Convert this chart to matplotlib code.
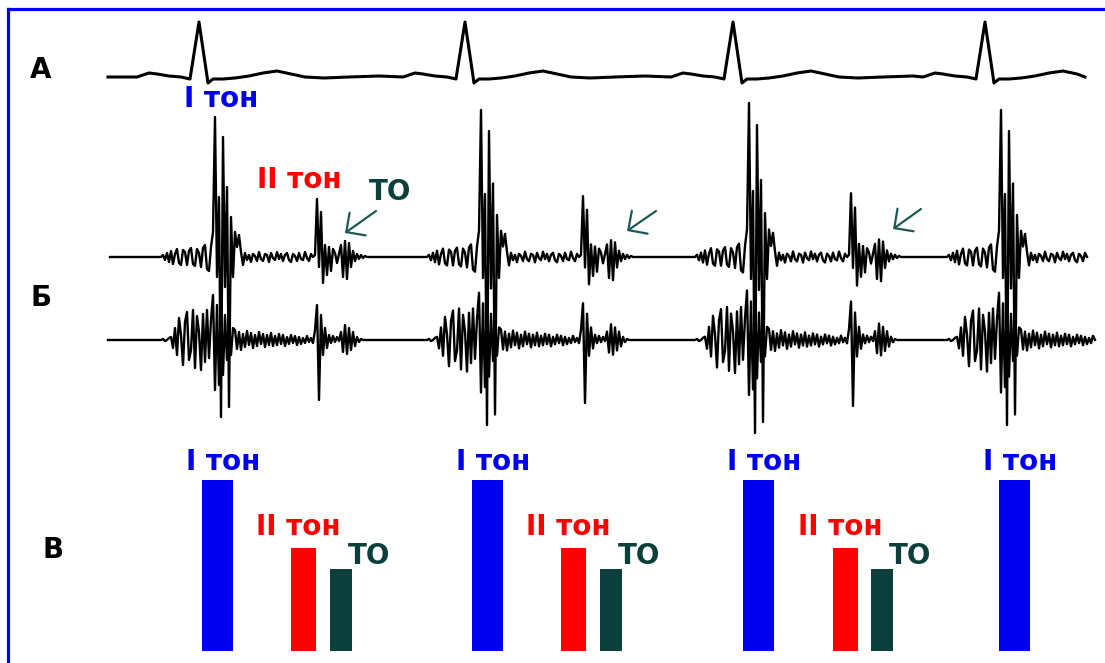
import numpy as np
import matplotlib
matplotlib.use('agg')
import matplotlib.pyplot as plt

W, H = 1105, 663

# beat timing along the recording (px from left edge of the sheet)
r_peaks = [199, 465, 733, 985]
t_first = [217, 487, 758, 1014]
t_second = [303, 573, 845]
t_third = [341, 611, 882]

# relative loudness of the tones (scheme В)
amp_first = 1.0
amp_second = 0.60
amp_third = 0.48

# ECG beat (offset from R peak, deflection in px)
ecg_dx = [-62, -50, -42, -30, -18, -9, 0, 9, 14, 24, 36, 50, 64, 78, 92, 106, 125, 150, 180]
ecg_mv = [0, 4, 3, 1, 0, -2, 55, -6, -2, -2, -1, 1, 4, 6, 3, 0, -1, 0, 1]

# PCG beats, sampled every 2 px from R-40
pcg_step = 2
pcg_start = -40
pcg_hi = [0, 0, 2, -3, 4, -5,
          6, -7, 3, 8, -6, -8, 7, 5, -8, 6, 9, -7, -9, 8, 4, -10, 9, 12, -12, -14, 10,
          25, 140, -20, 60, -160, 120, -30, 70, -150, 40, -20, 25, 10, 22, 5, -8,
          4, -3, 2, -5, 3, 1, -4, 5, -2, -4, 3, 2, -5, 4, -1, -3, 5, -2, 3, -4,
          2, 4, -3, -5, 3, 1, -4, 4, -2, -3, 5, -1, -4, 3, 0,
          2, 58, -10, 45, -26, 12,
          -18, 10, -14, 8, 4, -6, 3,
          12, -20, 16, -22, 14, -10, 6, -4, 3, -2,
          2, -1, 1, 0, 0, 0, 0]
pcg_lo = [0, 0, 1, -1, 0, 2,
          3, -8, 12, -15, 22, 5, -25, 18, 28, -20, -10, 30, -28, 24, 8, -30, 26, -22, 30, -18, 20,
          45, -50, 35, -45, 40, -35, 25, -20, 18, -15, 12,
          10, -9, 8, -10, 6, -7, 9, -5, 7, -8, 5, -6, 8, -4, 6, -7, 5, -5, 7, -6,
          4, -5, 6, -4, 5, -6, 3, -4, 5, -3, 4, -5, 3, -4, 2, -3, 4, -2,
          2, -3, 10, 35, -60, 25, -15, 12, -8, 5,
          -3, 4, -2, 3, -1,
          8, -12, 15, -14, 12, -10, 8, -6, 3, -2,
          1, 0, 0, 0, 0, 0, 0]
beat_gain = [1.0, 1.05, 1.1, 1.05]

BLUE = '#0000f0'
RED = '#ff0000'
TEAL = '#0b3f3c'


def trace(dx, vals, gains, x0, x1):
    xs, ys = [x0], [0]
    for r, g in zip(r_peaks, gains):
        for d, v in zip(dx, vals):
            if x0 < r + d < x1:
                xs.append(r + d)
                ys.append(v * g)
    xs.append(x1)
    ys.append(0)
    return np.array(xs), np.array(ys)


fig = plt.figure(figsize=(W / 100, H / 100), dpi=100)
fig.patch.set_facecolor('white')

ax = fig.add_axes([7.5 / W, 0, 1 - 7.5 / W, 1 - 8.5 / H])
ax.set_xlim(7.5, W)
ax.set_ylim(H, 8.5)
ax.set_xticks([])
ax.set_yticks([])
for side in ['bottom', 'right']:
    ax.spines[side].set_visible(False)
for side in ['top', 'left']:
    ax.spines[side].set_color('#0000ff')
    ax.spines[side].set_linewidth(2.3)

# A: ECG
x, y = trace(ecg_dx, ecg_mv, [1, 1, 1, 1], 108, 1085)
ax.plot(x, 77 - y, color='black', lw=2.2, solid_joinstyle='round')

# Б: two phonocardiogram channels
pcg_dx = [pcg_start + pcg_step * i for i in range(len(pcg_hi))]
x, y = trace(pcg_dx, pcg_hi, beat_gain, 110, 1087)
ax.plot(x, 257 - y, color='black', lw=1.7)
x, y = trace(pcg_dx, pcg_lo, beat_gain, 108, 1095)
ax.plot(x, 340 - y, color='black', lw=1.7)

bold = dict(fontweight='bold', family='DejaVu Sans')
for lab, px, py in [('А', 41, 78), ('Б', 41, 306), ('В', 53, 558)]:
    ax.text(px, py, lab, fontsize=20, ha='center', va='baseline', color='black', **bold)

ax.text(221, 107, 'I тон', fontsize=20, ha='center', va='baseline', color=BLUE, **bold)
ax.text(299, 188, 'II тон', fontsize=20, ha='center', va='baseline', color=RED, **bold)
ax.text(390, 200, 'ТО', fontsize=20, ha='center', va='baseline', color=TEAL, **bold)

for tip, tail in [((345, 233), (376, 211)), ((627, 231), (656, 211)), ((893, 229), (921, 209))]:
    ax.annotate('', xy=tip, xytext=tail,
                arrowprops=dict(arrowstyle='->,head_length=0.5,head_width=0.5',
                                mutation_scale=20, color='#1b5a55', lw=1.6,
                                shrinkA=0, shrinkB=0))

# В: tone amplitude bars
axb = fig.add_axes([7.5 / W, (H - 651) / H, 1 - 7.5 / W, 171 / H])
axb.set_xlim(7.5, W)
axb.set_ylim(0, 1)
axb.axis('off')
axb.bar(t_first, [amp_first] * len(t_first), width=31, color=BLUE)
axb.bar(t_second, [amp_second] * len(t_second), width=25, color=RED)
axb.bar(t_third, [amp_third] * len(t_third), width=22, color=TEAL)

for t in t_first:
    ax.text(t + 6, 470, 'I тон', fontsize=20, ha='center', va='baseline', color=BLUE, **bold)
for t in t_second:
    ax.text(t - 5, 535, 'II тон', fontsize=20, ha='center', va='baseline', color=RED, **bold)
for t in t_third:
    ax.text(t + 28, 564, 'ТО', fontsize=20, ha='center', va='baseline', color=TEAL, **bold)

fig.savefig('out.png', dpi=100, facecolor='white')
